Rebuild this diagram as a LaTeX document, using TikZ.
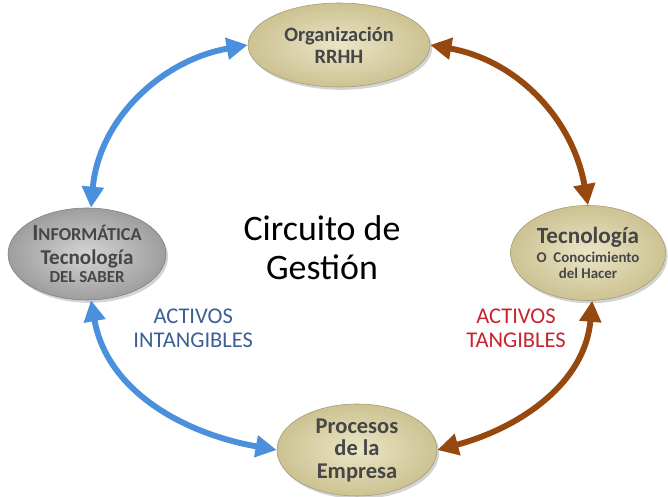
\documentclass[tikz,border=0pt]{standalone}
\usepackage{fontspec}
\setmainfont{Carlito}
\usepackage{tikz}
\usetikzlibrary{arrows.meta,shapes.geometric,shadows}
\definecolor{arrblue}{RGB}{74,144,220}
\definecolor{arrbrown}{RGB}{150,72,15}
\definecolor{txtblue}{RGB}{60,95,150}
\definecolor{txtred}{RGB}{200,35,45}
\definecolor{tanin}{RGB}{234,229,198}
\definecolor{tanout}{RGB}{204,194,146}
\definecolor{greyin}{RGB}{212,212,212}
\definecolor{greyout}{RGB}{158,158,158}
\definecolor{ovaltext}{RGB}{70,70,70}

\begin{document}
\begin{tikzpicture}[
  oval/.style={ellipse, draw=tanout!80!black, line width=0.4pt,
               inner color=tanin, outer color=tanout, align=center,
               text=ovaltext, inner sep=0pt,
               drop shadow={opacity=0.35, shadow xshift=1.5pt, shadow yshift=-2pt}},
  greyoval/.style={oval, draw=greyout!80!black, inner color=greyin, outer color=greyout},
  arr/.style={{Triangle[length=15pt, width=15pt]}-{Triangle[length=15pt, width=15pt]},
              line width=4.2pt},
  tag/.style={align=center, font=\fontsize{16}{17}\selectfont}
]
\useasboundingbox (0,0) rectangle (16.7,-12.425);

\node[oval, minimum width=4.55cm, minimum height=2.1cm,
      font=\bfseries\fontsize{14.5}{15.5}\selectfont] (org)
      at (8.475,-1.125) {Organización\\RRHH};
\node[greyoval, minimum width=3.95cm, minimum height=2.3cm,
      font=\bfseries\fontsize{13}{17}\selectfont] (inf)
      at (2.175,-6.35) {{\fontsize{16.5}{17}\selectfont I}NFORMÁTICA\\
                        {\fontsize{15}{17}\selectfont Tecnología}\\[-4pt]
                        {\fontsize{12}{17}\selectfont DEL SABER}};
\node[oval, minimum width=3.875cm, minimum height=2.375cm,
      font=\bfseries\fontsize{10.6}{13.5}\selectfont] (tec)
      at (14.7,-6.325) {{\fontsize{16.5}{13.5}\selectfont Tecnología}\\
                        O~ Conocimiento\\[-2.2pt]
                        del Hacer};
\node[oval, minimum width=4cm, minimum height=2.3cm,
      font=\bfseries\fontsize{16}{16}\selectfont] (proc)
      at (8.925,-11.25) {Procesos\\de la\\Empresa};

\node[align=center, font=\fontsize{25.5}{28}\selectfont] (title)
      at (8.05,-6.2) {Circuito de\\Gestión};
\node[tag, text=txtblue] (intang) at (4.83,-8.2) {ACTIVOS\\INTANGIBLES};
\node[tag, text=txtred] (tang) at (12.9,-8.2) {ACTIVOS\\TANGIBLES};

\draw[arr, arrblue] (org.west) to[out=190, in=85] (inf.85);
\draw[arr, arrbrown] (org.east) to[out=-10, in=100] (tec.north);
\draw[arr, arrblue] (inf.-85) to[out=-80, in=170] (proc.west);
\draw[arr, arrbrown] (tec.-85) to[out=-95, in=15] (proc.east);
\end{tikzpicture}
\end{document}
